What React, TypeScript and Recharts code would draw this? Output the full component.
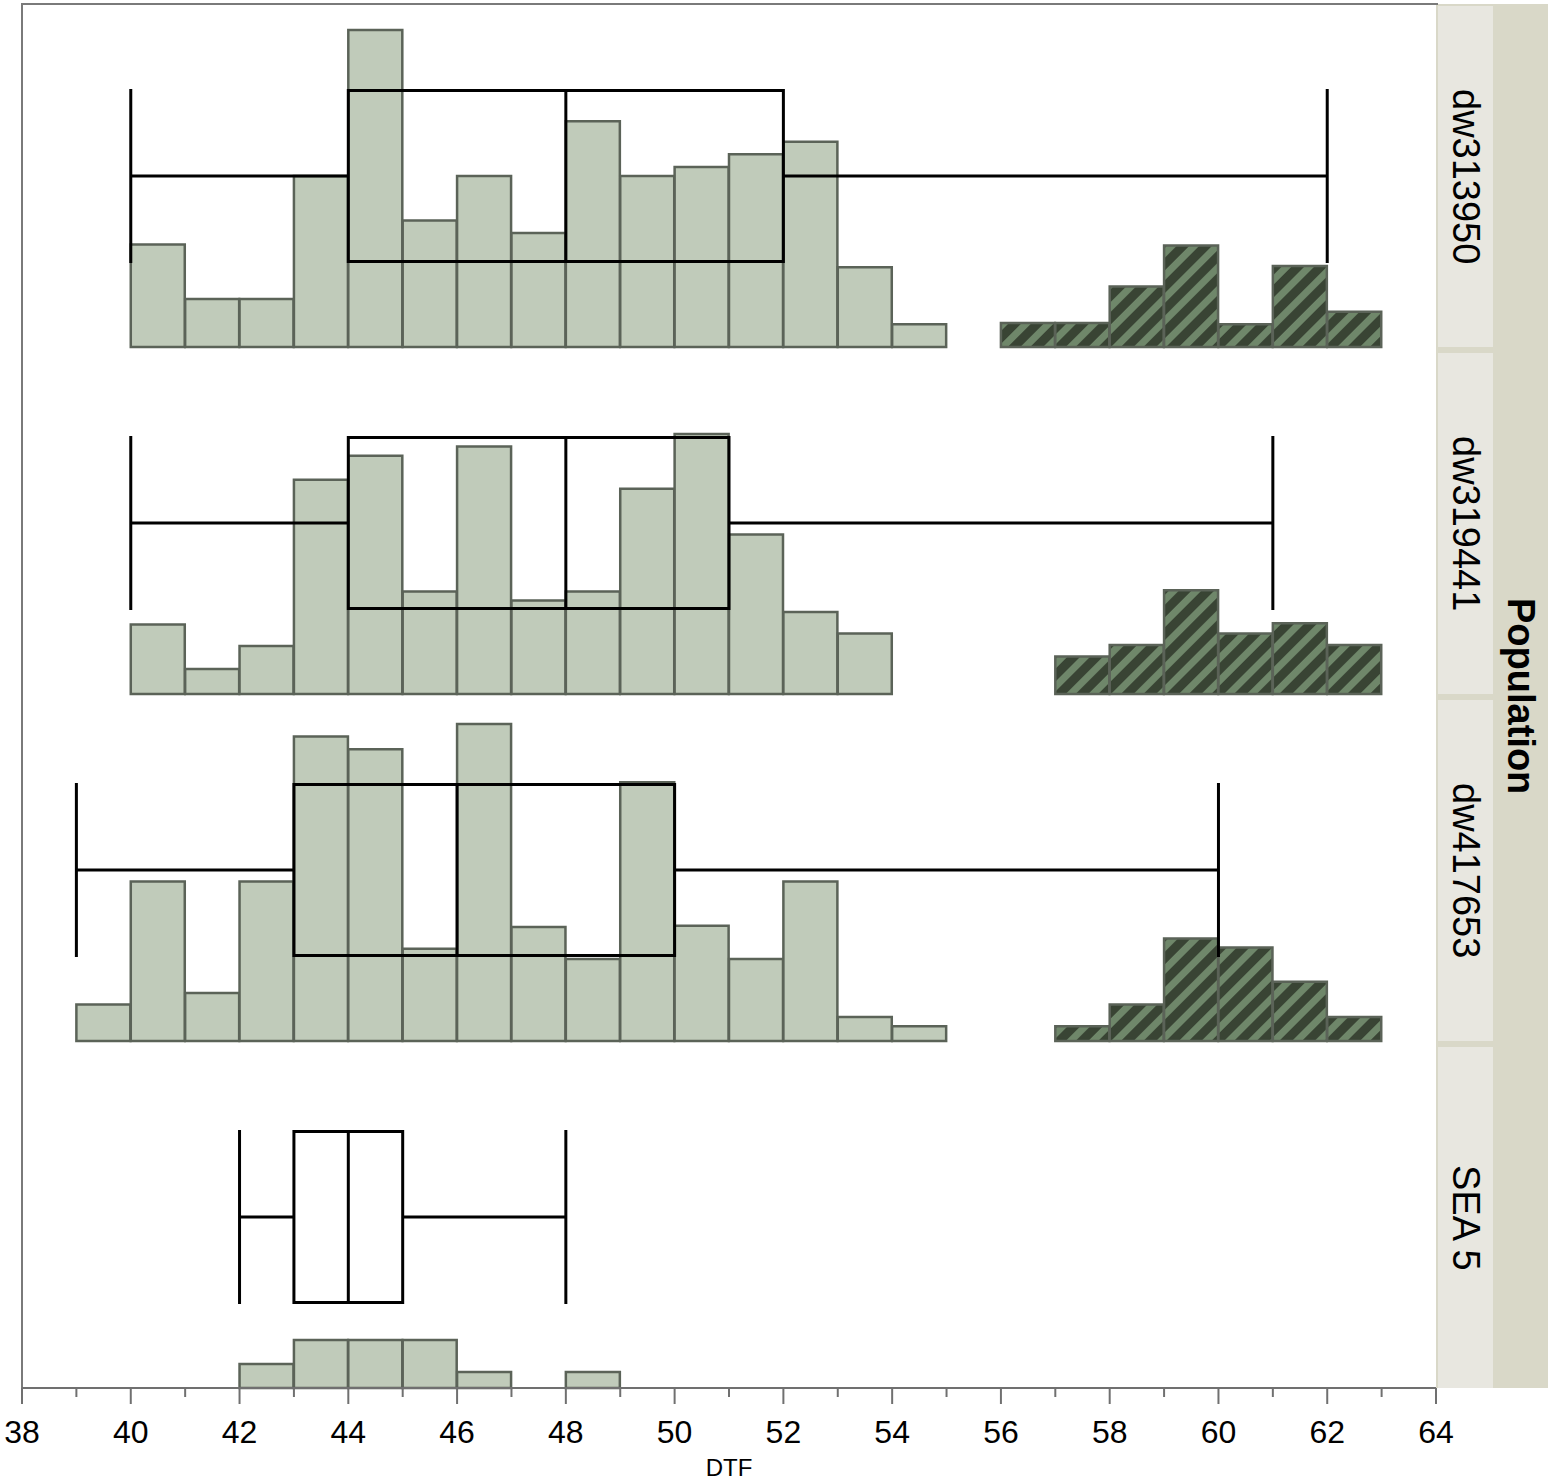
import React from 'react';
import { Bar, Cell, ComposedChart, Line, XAxis, YAxis } from 'recharts';

// histogram bins (bar centres) on the DTF axis
const binCentres = [
  38.5, 39.5, 40.5, 41.5, 42.5, 43.5, 44.5, 45.5, 46.5, 47.5, 48.5, 49.5, 50.5,
  51.5, 52.5, 53.5, 54.5, 55.5, 56.5, 57.5, 58.5, 59.5, 60.5, 61.5, 62.5, 63.5,
];
const dtfTicks = [
  38, 39, 40, 41, 42, 43, 44, 45, 46, 47, 48, 49, 50, 51, 52, 53, 54, 55, 56,
  57, 58, 59, 60, 61, 62, 63, 64,
];
const lateFrom = 56; // bins from here on are drawn hatched

const populations = ['dw313950', 'dw319441', 'dw417653', 'SEA 5'];

// bar heights per population, one value per bin above
const dw313950Counts = [
  0, 0, 9.0, 4.2, 4.2, 15.0, 27.8, 11.1, 15.0, 10.0, 19.8, 15.0, 15.8, 16.9,
  18.0, 7.0, 2.0, 0, 2.1, 2.1, 5.3, 8.9, 2.0, 7.1, 3.1, 0,
];
const dw319441Counts = [
  0, 0, 6.1, 2.2, 4.2, 18.8, 20.9, 9.0, 21.7, 8.2, 9.0, 18.0, 22.8, 14.0, 7.2,
  5.3, 0, 0, 0, 3.3, 4.3, 9.1, 5.3, 6.2, 4.3, 0,
];
const dw417653Counts = [
  0, 3.2, 14.0, 4.2, 14.0, 26.7, 25.6, 8.1, 27.8, 10.0, 7.2, 22.7, 10.1, 7.2,
  14.0, 2.1, 1.3, 0, 0, 1.3, 3.2, 9.0, 8.2, 5.2, 2.1, 0,
];
const sea5Counts = [
  0, 0, 0, 0, 2.1, 4.2, 4.2, 4.2, 1.4, 0, 1.4, 0, 0, 0, 0, 0, 0, 0, 0, 0, 0,
  0, 0, 0, 0, 0,
];

// box plot: [min, q1, median, q3, max]
const dw313950Box = [40, 44, 48, 52, 62];
const dw319441Box = [40, 44, 48, 51, 61];
const dw417653Box = [39, 43, 46, 50, 60];
const sea5Box = [42, 43, 44, 45, 48];

const allCounts = [dw313950Counts, dw319441Counts, dw417653Counts, sea5Counts];
const allBoxes = [dw313950Box, dw319441Box, dw417653Box, sea5Box];

const FONT = '"Liberation Sans", Arial, Helvetica, sans-serif';
const PLOT_LEFT = 22;
const PLOT_W = 1414;
const PANEL_H = 342;
const PANEL_STEP = 347;
const PAD = 30;
const Y_MAX = 30;
// box sits in the middle half of each panel
const BOX_LOW = Y_MAX * 0.25;
const BOX_MID = Y_MAX * 0.5;
const BOX_HIGH = Y_MAX * 0.75;

// outline of a box-and-whisker as one broken line (null = pen up)
function boxOutline(stats: number[]) {
  const [lo, q1, med, q3, hi] = stats;
  const pts: [number, number | null][] = [
    [lo, BOX_LOW], [lo, BOX_HIGH], [lo, null],
    [lo, BOX_MID], [q1, BOX_MID], [q1, null],
    [q1, BOX_LOW], [q3, BOX_LOW], [q3, BOX_HIGH], [q1, BOX_HIGH], [q1, BOX_LOW], [q1, null],
    [med, BOX_LOW], [med, BOX_HIGH], [med, null],
    [q3, BOX_MID], [hi, BOX_MID], [hi, null],
    [hi, BOX_LOW], [hi, BOX_HIGH],
  ];
  return pts.map(([dtf, box]) => ({ dtf, box }));
}

function DtfTick(props: any) {
  const { x, y, payload } = props;
  const major = payload.value % 2 === 0;
  return (
    <g>
      <line
        x1={x}
        x2={x}
        y1={y}
        y2={y + (major ? 16 : 9)}
        stroke="#707070"
        strokeWidth={2}
      />
      {major && (
        <text
          x={x}
          y={y + 55}
          textAnchor="middle"
          fontSize={32}
          fontFamily={FONT}
          fill="#000"
        >
          {payload.value}
        </text>
      )}
    </g>
  );
}

function Panel({ index }: { index: number }) {
  const counts = allCounts[index];
  const last = index === populations.length - 1;
  const data = binCentres.map((c, i) => ({ dtf: c, count: counts[i] }));
  const outline = boxOutline(allBoxes[index]);
  const patId = `hatch-${index}`;
  const axisH = last ? 96 : 0;

  return (
    <div
      style={{
        position: 'absolute',
        left: PLOT_LEFT - PAD,
        top: 5 + index * PANEL_STEP,
      }}
    >
      <ComposedChart
        width={PLOT_W + PAD * 2}
        height={PANEL_H + axisH + (last ? 0 : 2)}
        data={data}
        margin={{ top: 0, right: PAD, left: PAD, bottom: last ? 0 : 2 }}
        barCategoryGap={0}
        barGap={0}
      >
        <defs>
          <pattern
            id={patId}
            patternUnits="userSpaceOnUse"
            width={16}
            height={16}
            patternTransform="rotate(45)"
          >
            <rect x={0} y={0} width={16} height={16} fill="#6f876a" />
            <rect x={0} y={0} width={9} height={16} fill="#394434" />
          </pattern>
        </defs>
        <XAxis
          dataKey="dtf"
          type="number"
          domain={[38, 64]}
          ticks={dtfTicks}
          interval={0}
          height={axisH}
          tickSize={0}
          tickMargin={0}
          tickLine={false}
          tick={last ? <DtfTick /> : false}
          axisLine={{
            stroke: last ? '#707070' : '#d9d9d9',
            strokeWidth: 2,
          }}
          label={
            last
              ? {
                  value: 'DTF',
                  position: 'insideBottom',
                  offset: 8,
                  fontSize: 24,
                  fill: '#000',
                  fontFamily: FONT,
                }
              : undefined
          }
        />
        <XAxis
          xAxisId="box"
          dataKey="dtf"
          type="number"
          domain={[38, 64]}
          hide
        />
        <YAxis hide domain={[0, Y_MAX]} />
        <Bar
          dataKey="count"
          stroke="#5b6358"
          strokeWidth={2.5}
          isAnimationActive={false}
        >
          {data.map((d, i) => (
            <Cell
              key={`c-${i}`}
              fill={d.dtf > lateFrom ? `url(#${patId})` : '#c0cbba'}
            />
          ))}
        </Bar>
        <Line
          xAxisId="box"
          data={outline}
          dataKey="box"
          type="linear"
          stroke="#000"
          strokeWidth={3}
          dot={false}
          activeDot={false}
          connectNulls={false}
          strokeLinecap="square"
          isAnimationActive={false}
        />
      </ComposedChart>
    </div>
  );
}

export default function App() {
  return (
    <div
      style={{
        position: 'absolute',
        left: 0,
        top: 0,
        width: 1550,
        height: 1484,
        background: '#fff',
        fontFamily: FONT,
      }}
    >
      {/* grey strip column */}
      <div
        style={{
          position: 'absolute',
          left: 1436,
          top: 4,
          width: 112,
          height: 1384,
          background: '#d9d8c8',
        }}
      />
      {populations.map((p, i) => (
        <div
          key={p}
          style={{
            position: 'absolute',
            left: 1438,
            top: 6 + i * PANEL_STEP,
            width: 55,
            height: 341,
            background: '#e8e7e0',
            display: 'flex',
            alignItems: 'center',
            justifyContent: 'center',
          }}
        >
          <span
            style={{ writingMode: 'vertical-rl', fontSize: 38, color: '#000' }}
          >
            {p}
          </span>
        </div>
      ))}
      <div
        style={{
          position: 'absolute',
          left: 1493,
          top: 4,
          width: 55,
          height: 1384,
          display: 'flex',
          alignItems: 'center',
          justifyContent: 'center',
        }}
      >
        <span
          style={{
            writingMode: 'vertical-rl',
            fontSize: 38,
            fontWeight: 'bold',
            color: '#000',
          }}
        >
          Population
        </span>
      </div>
      {/* plot frame */}
      <div
        style={{
          position: 'absolute',
          left: 21,
          top: 3,
          width: 1415,
          height: 1386,
          borderLeft: '2px solid #7a7a7a',
          borderTop: '2px solid #7a7a7a',
        }}
      />
      {populations.map((p, i) => (
        <Panel key={p} index={i} />
      ))}
    </div>
  );
}
